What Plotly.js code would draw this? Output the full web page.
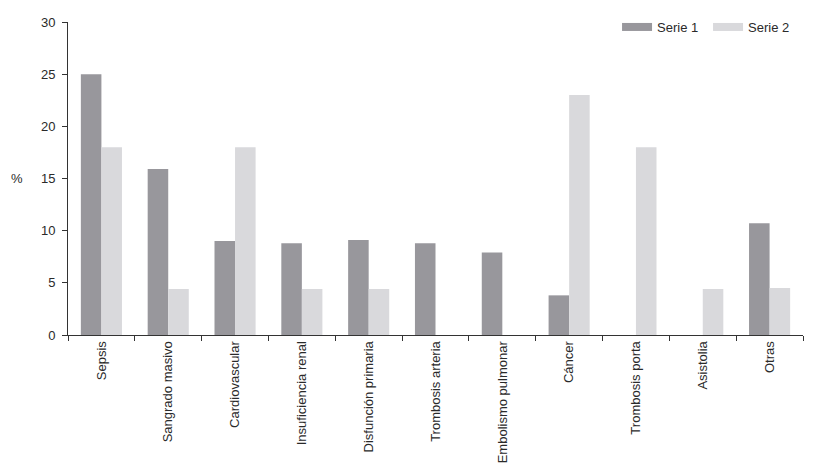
<!DOCTYPE html>
<html>
<head>
<meta charset="utf-8">
<script src="https://cdn.plot.ly/plotly-3.0.1.min.js"></script>
<style>html,body{margin:0;padding:0;background:#fff;}#chart{width:837px;height:471px;}</style>
</head>
<body>
<div id="chart"></div>
<script>
const categories = ["Sepsis", "Sangrado masivo", "Cardiovascular", "Insuficiencia renal", "Disfunción primaria", "Trombosis arteria", "Embolismo pulmonar", "Cáncer", "Trombosis porta", "Asistolia", "Otras"];
const serie1 = [25, 15.9, 9.0, 8.8, 9.1, 8.8, 7.9, 3.8, 0, 0, 10.7];
const serie2 = [18, 4.4, 18, 4.4, 4.4, 0, 0, 23, 18, 4.4, 4.5];
const seriesNames = ["Serie 1", "Serie 2"];
const yTicks = [0, 5, 10, 15, 20, 25, 30];

const c1 = "#98979c", c2 = "#d9d9dc";
const font = {family: "Liberation Sans, Arial, sans-serif", size: 13, color: "#2a2a2a"};

const traces = [
  {type: "bar", x: categories, y: serie1, name: seriesNames[0], marker: {color: c1}, showlegend: false},
  {type: "bar", x: categories, y: serie2, name: seriesNames[1], marker: {color: c2}, showlegend: false},
  {type: "scatter", mode: "lines", x: [null], y: [null], name: seriesNames[0], line: {color: c1, width: 8}},
  {type: "scatter", mode: "lines", x: [null], y: [null], name: seriesNames[1], line: {color: c2, width: 8}}
];

const layout = {
  width: 837, height: 471,
  margin: {l: 68, r: 34, t: 22, b: 136, autoexpand: false},
  paper_bgcolor: "#fff", plot_bgcolor: "#fff",
  font: font,
  barmode: "group",
  bargap: 0.385,
  bargroupgap: 0,
  showlegend: true,
  legend: {orientation: "h", x: 0.747, xanchor: "left", y: 0.984, yanchor: "middle", font: font, itemwidth: 30, entrywidth: 46, entrywidthmode: "pixels", bgcolor: "rgba(0,0,0,0)", traceorder: "normal"},
  xaxis: {
    type: "category", tickangle: -90, tickson: "boundaries",
    ticks: "outside", ticklen: 5, tickcolor: "#333",
    showline: true, linecolor: "#333", linewidth: 1,
    showgrid: false, zeroline: false, tickfont: font, fixedrange: true
  },
  yaxis: {
    range: [0, 30], tickvals: yTicks, ticktext: yTicks.map(String),
    ticks: "outside", ticklen: 5, tickcolor: "#333", ticklabelstandoff: 4,
    showline: true, linecolor: "#333", linewidth: 1,
    showgrid: false, zeroline: false, tickfont: font, fixedrange: true
  },
  annotations: [
    {text: "%", xref: "paper", yref: "paper", x: -0.069, y: 0.5, xanchor: "center", yanchor: "middle", showarrow: false, font: font}
  ]
};

Plotly.newPlot("chart", traces, layout, {displayModeBar: false, staticPlot: true});
</script>
</body>
</html>
